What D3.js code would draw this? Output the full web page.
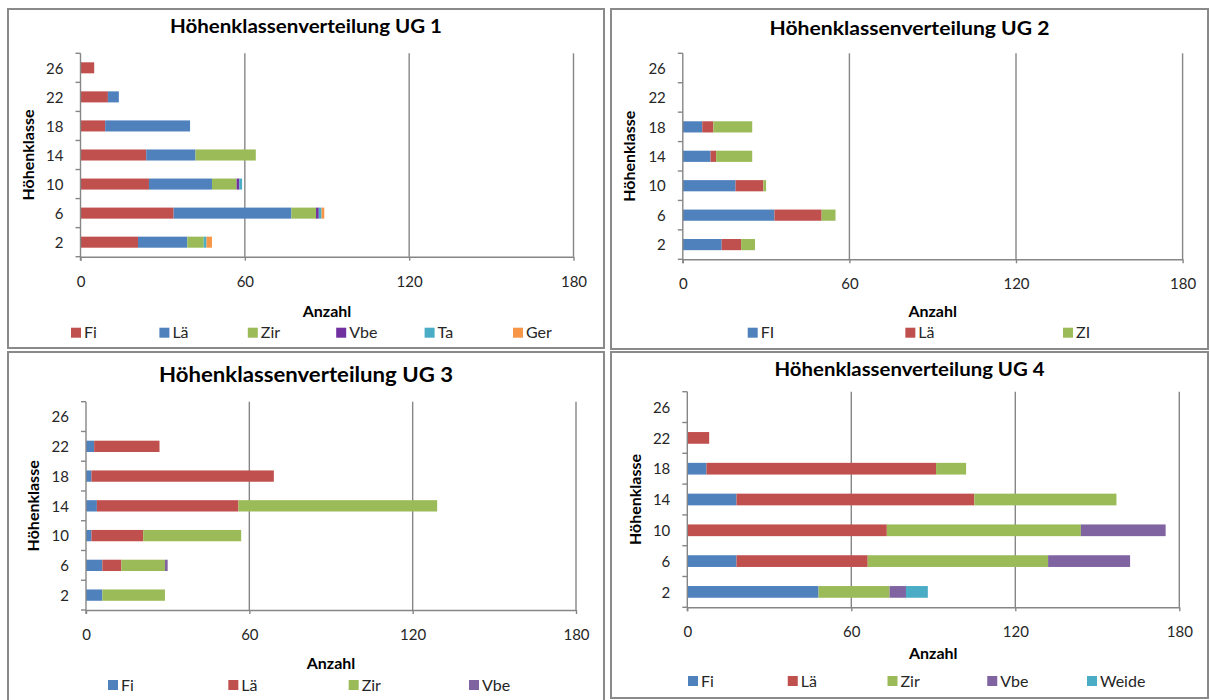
<!DOCTYPE html>
<html>
<head>
<meta charset="utf-8">
<script src="https://cdn.jsdelivr.net/npm/d3@7"></script>
<style>
  html, body { margin: 0; padding: 0; background: #ffffff; }
  svg { display: block; font-family: Lato, "Open Sans", sans-serif; }
</style>
</head>
<body>
<svg id="chart" width="1210" height="700"></svg>
<script>
// ---------- DATA ----------
const categories = [2, 6, 10, 14, 18, 22, 26];
const xTickValues = [0, 60, 120, 180];

// UG 1
const ug1Names = ["Fi", "Lä", "Zir", "Vbe", "Ta", "Ger"];
const ug1Fi  = [21, 34, 25, 24, 9, 10, 5];
const ug1La  = [18, 43, 23, 18, 31, 4, 0];
const ug1Zir = [6, 9, 9, 22, 0, 0, 0];
const ug1Vbe = [0, 1, 1, 0, 0, 0, 0];
const ug1Ta  = [1, 1, 1, 0, 0, 0, 0];
const ug1Ger = [2, 1, 0, 0, 0, 0, 0];

// UG 2
const ug2Names = ["FI", "Lä", "ZI"];
const ug2Fi = [14, 33, 19, 10, 7, 0, 0];
const ug2La = [7, 17, 10, 2, 4, 0, 0];
const ug2Zi = [5, 5, 1, 13, 14, 0, 0];

// UG 3
const ug3Names = ["Fi", "Lä", "Zir", "Vbe"];
const ug3Fi  = [6, 6, 2, 4, 2, 3, 0];
const ug3La  = [0, 7, 19, 52, 67, 24, 0];
const ug3Zir = [23, 16, 36, 73, 0, 0, 0];
const ug3Vbe = [0, 1, 0, 0, 0, 0, 0];

// UG 4
const ug4Names = ["Fi", "Lä", "Zir", "Vbe", "Weide"];
const ug4Fi    = [48, 18, 0, 18, 7, 0, 0];
const ug4La    = [0, 48, 73, 87, 84, 8, 0];
const ug4Zir   = [26, 66, 71, 52, 11, 0, 0];
const ug4Vbe   = [6, 30, 31, 0, 0, 0, 0];
const ug4Weide = [8, 0, 0, 0, 0, 0, 0];

const titles = [
  "Höhenklassenverteilung UG 1",
  "Höhenklassenverteilung UG 2",
  "Höhenklassenverteilung UG 3",
  "Höhenklassenverteilung UG 4"
];
const xAxisTitle = "Anzahl";
const yAxisTitle = "Höhenklasse";

// ---------- STYLE ----------
const C = {
  blue: "#4F81BD", red: "#C0504D", green: "#9BBB59",
  purple: "#8064A2", darkPurple: "#7030A0", cyan: "#4BACC6", orange: "#F79646"
};

// ---------- LAYOUT / CONFIG ----------
const panels = [
  {
    title: titles[0], names: ug1Names,
    values: [ug1Fi, ug1La, ug1Zir, ug1Vbe, ug1Ta, ug1Ger],
    colors: [C.red, C.blue, C.green, C.darkPurple, C.cyan, C.orange],
    box: [8, 9, 604, 348],
    plot: { x0: 80.5, x1: 573.5, y0: 53.3, y1: 256.7 },
    titleY: 33, titleW: 272, titleSize: 18,
    tickLabelY: 281.7, axisTitleY: 311, legendY: 332.7, legendX: [71, 513], yTitleX: 28
  },
  {
    title: titles[1], names: ug2Names,
    values: [ug2Fi, ug2La, ug2Zi],
    colors: [C.blue, C.red, C.green],
    box: [611, 9, 1208, 349],
    plot: { x0: 682.8, x1: 1182.6, y0: 53.3, y1: 259.3 },
    titleY: 35, titleW: 280, titleSize: 18,
    tickLabelY: 283.3, axisTitleY: 311.7, legendY: 332.7, legendX: [747.7, 1063], yTitleX: 629
  },
  {
    title: titles[2], names: ug3Names,
    values: [ug3Fi, ug3La, ug3Zir, ug3Vbe],
    colors: [C.blue, C.red, C.green, C.purple],
    box: [8, 352, 604, 702],
    plot: { x0: 86, x1: 576, y0: 401.7, y1: 610 },
    titleY: 382, titleW: 294, titleSize: 20,
    tickLabelY: 635, axisTitleY: 663, legendY: 685, legendX: [108, 469], yTitleX: 33
  },
  {
    title: titles[3], names: ug4Names,
    values: [ug4Fi, ug4La, ug4Zir, ug4Vbe, ug4Weide],
    colors: [C.blue, C.red, C.green, C.purple, C.cyan],
    box: [611, 352, 1208, 698],
    plot: { x0: 687.3, x1: 1179.3, y0: 391.7, y1: 607.3 },
    titleY: 376, titleW: 270, titleSize: 19,
    tickLabelY: 631.7, axisTitleY: 653.3, legendY: 681, legendX: [688, 1087], yTitleX: 635
  }
];

const svg = d3.select("#chart");
const gridColor = "#868686";
const borderColor = "#8a8a8a";

panels.forEach(p => {
  const g = svg.append("g");

  // panel frame
  g.append("rect")
    .attr("x", p.box[0]).attr("y", p.box[1])
    .attr("width", p.box[2] - p.box[0]).attr("height", p.box[3] - p.box[1])
    .attr("fill", "#fff").attr("stroke", borderColor).attr("stroke-width", 2);

  // scales
  const x = d3.scaleLinear().domain([0, 180]).range([p.plot.x0, p.plot.x1]);
  const y = d3.scaleBand().domain(categories.slice().reverse())
    .range([p.plot.y0, p.plot.y1]).paddingInner(0).paddingOuter(0);
  const barH = y.bandwidth() * 0.38;

  // vertical gridlines
  g.append("g").selectAll("line")
    .data(xTickValues.filter(v => v > 0))
    .join("line")
    .attr("x1", d => x(d)).attr("x2", d => x(d))
    .attr("y1", p.plot.y0).attr("y2", p.plot.y1)
    .attr("stroke", gridColor).attr("stroke-width", 1.4);

  // stacked data
  const rows = categories.map((c, i) => {
    const r = { cat: c };
    p.names.forEach((n, k) => { r[n] = p.values[k][i]; });
    return r;
  });
  const stacked = d3.stack().keys(p.names)(rows);

  g.append("g").selectAll("g")
    .data(stacked)
    .join("g")
    .attr("fill", (d, i) => p.colors[i])
    .selectAll("rect")
    .data(d => d.filter(s => s[1] - s[0] > 0))
    .join("rect")
    .attr("x", d => x(d[0]))
    .attr("width", d => x(d[1]) - x(d[0]))
    .attr("y", d => y(d.data.cat) + (y.bandwidth() - barH) / 2)
    .attr("height", barH);

  // x axis
  const xAxis = g.append("g")
    .attr("transform", `translate(0,${p.plot.y1})`)
    .call(d3.axisBottom(x).tickValues(xTickValues).tickSize(4).tickSizeOuter(0));
  xAxis.select(".domain").attr("stroke", gridColor).attr("stroke-width", 1.4);
  xAxis.selectAll(".tick line").attr("stroke", gridColor).attr("stroke-width", 1.4);
  xAxis.selectAll(".tick text")
    .attr("y", p.tickLabelY - p.plot.y1).attr("dy", "0.35em")
    .attr("font-size", 15).attr("fill", "#262626")
    .attr("font-family", "Lato, sans-serif");

  // y axis (labels at band centres, tick marks at band boundaries)
  const yAxis = g.append("g")
    .attr("transform", `translate(${p.plot.x0},0)`)
    .call(d3.axisLeft(y).tickSize(0).tickPadding(17));
  yAxis.select(".domain").remove();
  yAxis.selectAll(".tick text")
    .attr("font-size", 15).attr("fill", "#262626")
    .attr("font-family", "Lato, sans-serif").attr("dy", "0.38em");
  g.append("line")
    .attr("x1", p.plot.x0).attr("x2", p.plot.x0)
    .attr("y1", p.plot.y0).attr("y2", p.plot.y1 + 4)
    .attr("stroke", gridColor).attr("stroke-width", 1.4);
  const boundaries = categories.slice().reverse().map(c => y(c)).concat([p.plot.y1]);
  g.append("g").selectAll("line")
    .data(boundaries)
    .join("line")
    .attr("x1", p.plot.x0 - 5).attr("x2", p.plot.x0)
    .attr("y1", d => d).attr("y2", d => d)
    .attr("stroke", gridColor).attr("stroke-width", 1.4);

  // title
  g.append("text")
    .attr("x", (p.box[0] + p.box[2]) / 2).attr("y", p.titleY)
    .attr("text-anchor", "middle")
    .attr("font-size", p.titleSize).attr("font-weight", "bold")
    .attr("fill", "#000")
    .attr("textLength", p.titleW).attr("lengthAdjust", "spacingAndGlyphs")
    .text(p.title);

  // x axis title
  g.append("text")
    .attr("x", (p.plot.x0 + p.plot.x1) / 2).attr("y", p.axisTitleY)
    .attr("dy", "0.35em")
    .attr("text-anchor", "middle")
    .attr("font-size", 16).attr("font-weight", "bold").attr("fill", "#000")
    .text(xAxisTitle);

  // y axis title
  g.append("text")
    .attr("transform", `translate(${p.yTitleX},${(p.plot.y0 + p.plot.y1) / 2}) rotate(-90)`)
    .attr("dy", "0.35em")
    .attr("text-anchor", "middle")
    .attr("font-size", 16).attr("font-weight", "bold").attr("fill", "#000")
    .text(yAxisTitle);

  // legend
  const lx = d3.scalePoint().domain(p.names).range(p.legendX);
  const leg = g.append("g").selectAll("g")
    .data(p.names)
    .join("g")
    .attr("transform", d => `translate(${lx(d)},${p.legendY})`);
  leg.append("rect")
    .attr("x", 0).attr("y", -5).attr("width", 10).attr("height", 10)
    .attr("fill", (d, i) => p.colors[i]);
  leg.append("text")
    .attr("x", 13).attr("y", 0).attr("dy", "0.36em")
    .attr("font-size", 16).attr("fill", "#262626")
    .text(d => d);
});
</script>
</body>
</html>
